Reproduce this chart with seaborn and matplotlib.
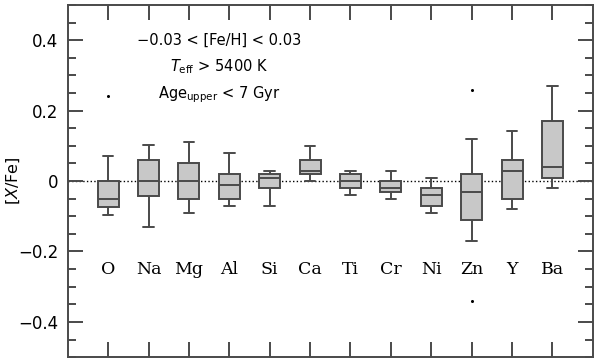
import numpy as np
import pandas as pd
import seaborn as sns
from matplotlib import pyplot as plt
from matplotlib.ticker import MultipleLocator

# Box summary
elements = ["O", "Na", "Mg", "Al", "Si", "Ca", "Ti", "Cr", "Ni", "Zn", "Y", "Ba"]
whis_lo  = [-0.097, -0.130, -0.090, -0.070, -0.070, 0.000, -0.040, -0.050, -0.091, -0.170, -0.080, -0.020]
q1       = [-0.073, -0.041, -0.050, -0.050, -0.020, 0.021, -0.020, -0.030, -0.070, -0.110, -0.050, 0.010]
median   = [-0.051, 0.000, 0.000, -0.011, 0.010, 0.029, 0.000, -0.020, -0.040, -0.030, 0.030, 0.040]
q3       = [0.000, 0.060, 0.051, 0.021, 0.021, 0.060, 0.021, 0.000, -0.020, 0.021, 0.060, 0.170]
whis_hi  = [0.072, 0.102, 0.110, 0.080, 0.030, 0.100, 0.030, 0.030, 0.010, 0.120, 0.141, 0.271]

# Outliers
out_el  = ["O", "Zn", "Zn"]
out_val = [0.242, 0.260, -0.340]

# Build a small sample per element that reproduces the box stats
rows = []
for el, a, b, c, d, e in zip(elements, whis_lo, q1, median, q3, whis_hi):
    for v in [a, b, b, c, d, d, e]:
        rows.append({"element": el, "value": v})
df = pd.DataFrame(rows)

sns.set_style("ticks")
plt.rcParams["font.family"] = ["DejaVu Sans"]
plt.rcParams["text.color"] = "k"
plt.rcParams["axes.labelcolor"] = "k"
plt.rcParams["ytick.labelcolor"] = "k"

EDGE = "#4a4a4a"

fig = plt.figure(figsize=(6, 3.6), dpi=100)
ax = fig.add_axes([0.113, 0.008, 0.875, 0.978])

# Zero line
ax.axhline(0, color="k", ls=":", lw=1.0, zorder=0)

sns.boxplot(data=df, x="element", y="value", order=elements, width=0.52,
            color="#c8c8c8", linecolor=EDGE, linewidth=1.4, saturation=1,
            showfliers=False, ax=ax)
sns.stripplot(x=out_el, y=out_val, order=elements, jitter=False,
              color="k", size=2.2, ax=ax)

ax.set_xlim(-1, 12)
ax.set_ylim(-0.5, 0.5)

# Element names inside the plot
for i, el in enumerate(elements):
    ax.text(i, -0.25, el, ha="center", va="center", fontsize=12.5,
            family="DejaVu Serif", color="k")

ax.set_xticks(range(len(elements)))
ax.set_xticklabels([])
ax.set_xlabel("")
ax.yaxis.set_major_locator(MultipleLocator(0.2))
ax.yaxis.set_minor_locator(MultipleLocator(0.05))
ax.set_yticks([-0.4, -0.2, 0, 0.2, 0.4])
ax.set_yticklabels(["\u22120.4", "\u22120.2", "0", "0.2", "0.4"])
ax.tick_params(axis="both", which="major", direction="in", length=11, width=1.4,
               color=EDGE, labelcolor="k", top=True, right=True, labelsize=12, pad=7)
ax.tick_params(axis="y", which="minor", direction="in", length=6, width=1.4,
               color=EDGE, right=True)
ax.tick_params(axis="x", which="minor", bottom=False, top=False)
for s in ax.spines.values():
    s.set_linewidth(1.4)
    s.set_color(EDGE)

ax.set_ylabel(r"[$X$/Fe]", fontsize=11.5, color="k")
ax.yaxis.set_label_coords(-0.088, 0.5)

# Sample selection notes
ax.text(2.75, 0.40, "\u22120.03 < [Fe/H] < 0.03", ha="center", va="center", fontsize=10.5, color="k")
ax.text(2.75, 0.324, r"$T_{\rm eff}$ > 5400 K", ha="center", va="center", fontsize=10.5, color="k")
ax.text(2.75, 0.244, r"Age$_{\rm upper}$ < 7 Gyr", ha="center", va="center", fontsize=10.5, color="k")

fig.savefig("out.png", dpi=100)
